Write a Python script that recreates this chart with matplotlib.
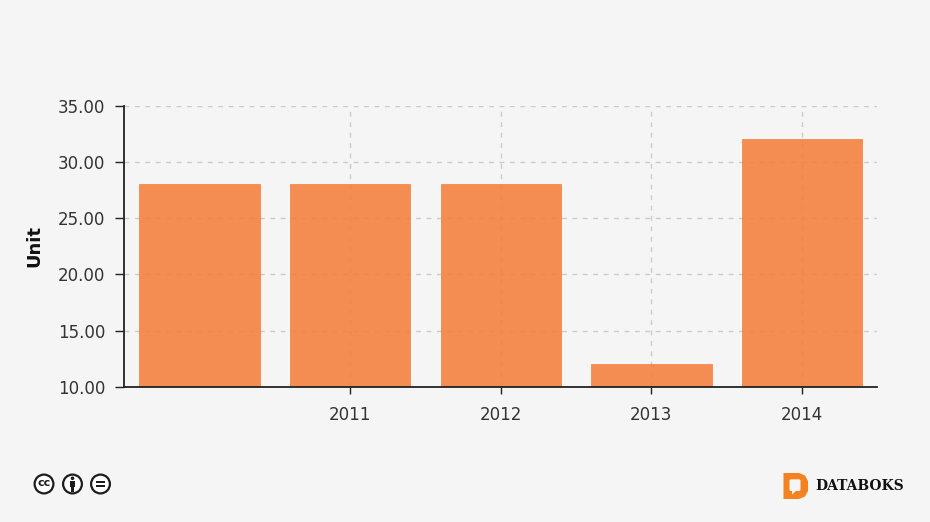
import matplotlib
matplotlib.use("Agg")
import matplotlib.pyplot as plt
from matplotlib.patches import Circle, Rectangle, Polygon, FancyBboxPatch

# Data
years = [2010, 2011, 2012, 2013, 2014]
values = [28, 28, 28, 12, 32]
x_labels = ["", "2011", "2012", "2013", "2014"]
y_ticks = [10, 15, 20, 25, 30, 35]

W, H = 930, 522
BG = "#f5f5f5"
DARK = "#222222"
ORANGE = "#f47f3a"

fig = plt.figure(figsize=(W / 100, H / 100), dpi=100, facecolor=BG)
ax = fig.add_axes([124.3 / W, 1 - 387 / H, (877.3 - 124.3) / W, (387 - 105.7) / H], facecolor=BG)

ax.set_axisbelow(True)
ax.grid(True, color="#cccccc", linestyle=(0, (3.5, 4)), linewidth=1)
ax.bar(years, values, width=0.8, color=ORANGE, alpha=0.88, edgecolor=ORANGE, linewidth=0.6)

ax.set_xlim(2009.5, 2014.5)
ax.set_ylim(10, 35)
ax.set_xticks(years)
ax.set_xticklabels(x_labels)
ax.set_yticks(y_ticks)
ax.set_yticklabels([f"{v:.2f}" for v in y_ticks])
ax.tick_params(axis="y", color=DARK, labelcolor="#333333", labelsize=12, length=6.5, width=1, pad=7)
ax.tick_params(axis="x", color=DARK, labelcolor="#333333", labelsize=12, length=5, width=1, pad=9)
# the first year has neither a label nor a tick
ax.xaxis.get_major_ticks()[0].tick1line.set_visible(False)
ax.xaxis.get_major_ticks()[0].gridline.set_visible(False)

ax.spines["top"].set_visible(False)
ax.spines["right"].set_visible(False)
ax.spines["left"].set_color(DARK)
ax.spines["bottom"].set_color(DARK)
ax.spines["left"].set_linewidth(1.3)
ax.spines["bottom"].set_linewidth(1.3)

fig.text(34 / W, 1 - 246 / H, "Unit", rotation=90, fontsize=13, fontweight="bold",
         color="#111111", ha="center", va="center")

# Overlay in pixel coordinates for licence icons and logo
ov = fig.add_axes([0, 0, 1, 1], facecolor="none")
ov.set_xlim(0, W)
ov.set_ylim(H, 0)
ov.axis("off")
ov.set_aspect("equal")

INK = "#1c1c1c"
for cx in (44, 72.5, 100.5):
    ov.add_patch(Circle((cx, 484), 9.4, facecolor="white", edgecolor=INK, linewidth=1.6))

# cc
ov.text(44, 483.4, "cc", fontsize=8, fontweight="bold", color=INK, ha="center", va="center")
# person
ov.add_patch(Circle((72.5, 478.3), 1.8, facecolor=INK, edgecolor="none"))
ov.add_patch(Rectangle((69.8, 480.8), 5.4, 5.7, facecolor=INK, edgecolor="none"))
ov.add_patch(Rectangle((71, 486), 3, 5.6, facecolor=INK, edgecolor="none"))
# equals
ov.add_patch(Rectangle((96, 480.8), 9, 2.3, facecolor=INK, edgecolor="none"))
ov.add_patch(Rectangle((96, 484.8), 9, 2.3, facecolor=INK, edgecolor="none"))

# Databoks logo: orange D with a speech bubble cut out
LOGO = "#f58220"
ov.add_patch(Polygon([(783.5, 473), (799, 473), (805, 475.5), (808, 481), (808, 491),
                      (805, 496.5), (799, 499), (783.5, 499)],
                     closed=True, facecolor=LOGO, edgecolor="none"))
ov.add_patch(FancyBboxPatch((789.5, 479.3), 11, 11.7, boxstyle="round,pad=0,rounding_size=1.5",
                            facecolor=BG, edgecolor="none"))
ov.add_patch(Polygon([(792, 490.5), (796.5, 490.5), (792, 494.5)], closed=True, facecolor=BG, edgecolor="none"))
ov.text(815, 485.7, "DATABOKS", fontsize=10, fontweight="bold", family="DejaVu Serif",
        color="#111111", ha="left", va="center")

fig.savefig("out.png", dpi=100, facecolor=BG)
